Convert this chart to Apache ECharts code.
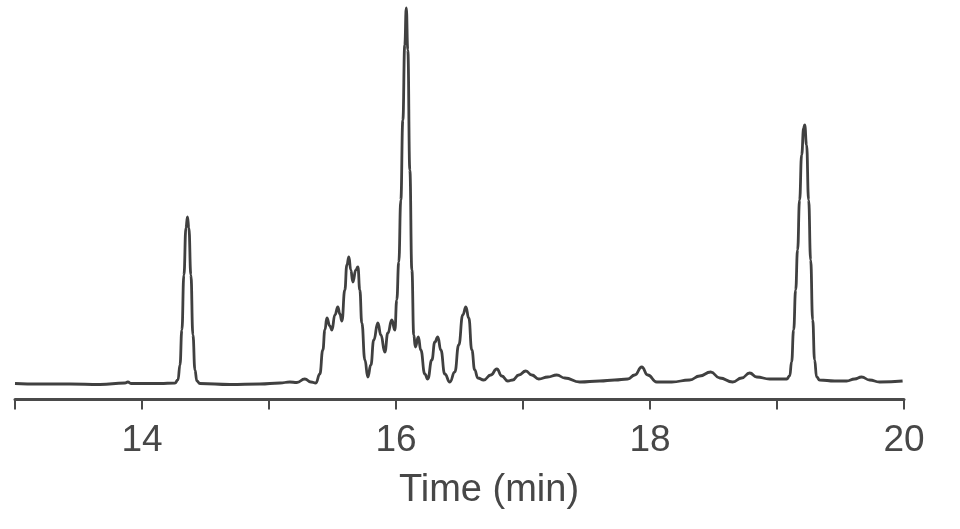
<!DOCTYPE html>
<html>
<head>
<meta charset="utf-8">
<script src="https://cdn.jsdelivr.net/npm/echarts@6/dist/echarts.min.js"></script>
<style>
html,body{margin:0;padding:0;background:#fff;}
#chart{width:960px;height:529px;}
</style>
</head>
<body>
<div id="chart"></div>
<script>
// Retention time (min)
const timeMin = [
  13.000, 13.197, 13.433, 13.669, 13.866, 13.889, 13.913, 14.141, 14.259, 14.283,
  14.299, 14.314, 14.330, 14.346, 14.358, 14.369, 14.385, 14.401, 14.417, 14.432,
  14.456, 14.692, 14.928, 15.086, 15.164, 15.219, 15.282, 15.330, 15.369, 15.400,
  15.424, 15.440, 15.456, 15.479, 15.495, 15.519, 15.542, 15.558, 15.574, 15.597,
  15.613, 15.629, 15.644, 15.660, 15.684, 15.700, 15.715, 15.731, 15.755, 15.778,
  15.802, 15.825, 15.857, 15.881, 15.912, 15.936, 15.967, 15.991, 16.006, 16.022,
  16.038, 16.054, 16.069, 16.081, 16.093, 16.109, 16.125, 16.140, 16.152, 16.176,
  16.195, 16.227, 16.250, 16.282, 16.306, 16.329, 16.353, 16.384, 16.424, 16.463,
  16.494, 16.526, 16.550, 16.573, 16.597, 16.620, 16.644, 16.691, 16.746, 16.794,
  16.833, 16.880, 16.919, 16.967, 17.022, 17.069, 17.124, 17.195, 17.266, 17.329,
  17.447, 17.604, 17.722, 17.825, 17.880, 17.935, 17.982, 18.053, 18.171, 18.312,
  18.391, 18.478, 18.549, 18.651, 18.722, 18.785, 18.840, 18.942, 19.076, 19.100,
  19.115, 19.131, 19.147, 19.162, 19.178, 19.194, 19.210, 19.218, 19.233, 19.249,
  19.265, 19.281, 19.296, 19.312, 19.336, 19.454, 19.548, 19.611, 19.666, 19.729,
  19.808, 19.989
];
// Detector signal (arbitrary units)
const signal = [
  16, 15.5, 15.5, 15, 16.5, 17.5, 16, 16, 16.5, 19.5,
  34.5, 69.5, 124.5, 171.5, 182.5, 171.5, 124.5, 64.5, 29.5, 18.5,
  16, 15, 15.5, 16.5, 17.5, 17, 20.5, 17.5, 16.5, 25.5,
  49.5, 69.5, 81.5, 73.5, 69.5, 84.5, 92.5, 85.5, 78.5, 109.5,
  134.5, 142.5, 129.5, 117.5, 129.5, 132.5, 109.5, 76.5, 39.5, 22.5,
  34.5, 59.5, 76.5, 64.5, 47.5, 66.5, 79.5, 69.5, 99.5, 137.5,
  199.5, 279.5, 354.5, 391.5, 349.5, 229.5, 129.5, 64.5, 52.5, 62.5,
  49.5, 25.5, 20.5, 39.5, 57.5, 62.5, 49.5, 25.5, 17.5, 27.5,
  54.5, 84.5, 92.5, 81.5, 49.5, 29.5, 21.5, 19.5, 24.5, 30.5,
  23.5, 18.5, 19.5, 24.5, 28.5, 24.5, 20.5, 22.5, 24.5, 21.5,
  17.5, 18.5, 19.5, 20.5, 24.5, 32.5, 24.5, 17.5, 17.5, 19.5,
  23.5, 27.5, 21.5, 17.5, 21.5, 26.5, 22.5, 20.5, 20.5, 23.5,
  37.5, 69.5, 109.5, 149.5, 199.5, 244.5, 271.5, 274.5, 254.5, 199.5,
  139.5, 79.5, 39.5, 22.5, 19.5, 18.5, 18.5, 20.5, 22.5, 19.5,
  17.5, 18.5
];
const xLabels = ['14', '16', '18', '20'];
const axisTitle = 'Time (min)';

const chart = echarts.init(document.getElementById('chart'), null, {renderer: 'canvas'});
const seriesData = timeMin.map((t, i) => [t, signal[i]]);

chart.setOption({
  animation: false,
  backgroundColor: '#ffffff',
  grid: {left: 15, right: 56, top: 0, bottom: 129.5, containLabel: false},
  xAxis: {
    type: 'value',
    min: 13, max: 20, interval: 1,
    splitLine: {show: false},
    axisLine: {show: true, lineStyle: {color: '#4a4a4a', width: 3}},
    axisTick: {show: true, length: 10, lineStyle: {color: '#4a4a4a', width: 2}},
    axisLabel: {
      margin: 23,
      fontFamily: 'Liberation Sans, Arial, sans-serif',
      fontSize: 37,
      color: '#474747',
      formatter: v => xLabels.includes(String(v)) ? String(v) : ''
    },
    name: axisTitle,
    nameLocation: 'middle',
    nameGap: 72,
    nameTextStyle: {
      fontFamily: 'Liberation Sans, Arial, sans-serif',
      fontSize: 38,
      color: '#474747',
      padding: [0, 0, 0, 59]
    }
  },
  yAxis: {type: 'value', min: 0, max: 399.5, show: false},
  series: [{
    type: 'line',
    data: seriesData,
    showSymbol: false,
    smooth: 0.5,
    smoothMonotone: 'x',
    lineStyle: {color: '#404040', width: 2.8},
    clip: false
  }]
});
</script>
</body>
</html>
